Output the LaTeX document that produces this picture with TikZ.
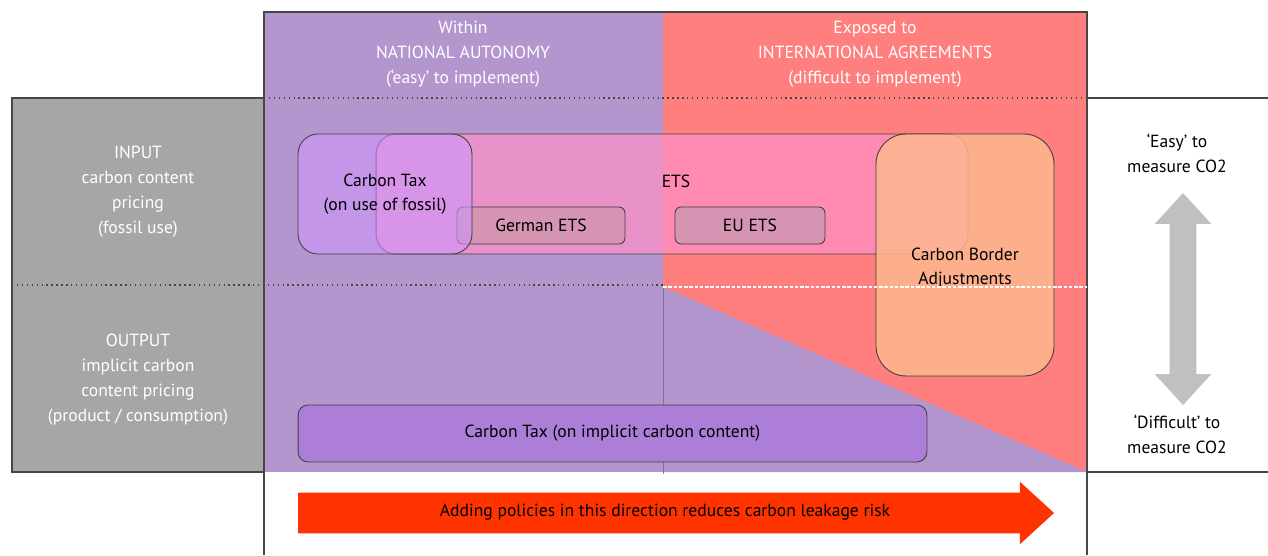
\documentclass[tikz,border=0pt]{standalone}
\usepackage{fontspec}
\setmainfont{PT Sans}
\usepackage{tikz}
\usetikzlibrary{shapes.arrows}
\usetikzlibrary{positioning}
\definecolor{autonomy}{RGB}{180,150,206}
\definecolor{agreement}{RGB}{255,127,127}
\definecolor{panelgrey}{RGB}{166,166,166}
\definecolor{framegrey}{RGB}{70,70,70}
\definecolor{taxpurple}{RGB}{205,150,254}
\definecolor{etspink}{RGB}{255,145,200}
\definecolor{subets}{RGB}{212,148,178}
\definecolor{cbapeach}{RGB}{253,183,142}
\definecolor{implicittax}{RGB}{172,124,218}
\definecolor{leakred}{RGB}{255,51,0}
\definecolor{measuregrey}{RGB}{192,192,192}
\tikzset{policy/.style={draw=black!75,line width=0.5pt,rounded corners=0.4cm,font=\fontsize{10}{14}\selectfont,align=center,inner sep=0pt,text opacity=1}}
\tikzset{headtxt/.style={text=white,font=\fontsize{10}{14.2}\selectfont,align=center}}
\tikzset{sidetxt/.style={text=white,font=\fontsize{10}{14.2}\selectfont,align=center}}
\tikzset{measuretxt/.style={text=black,font=\fontsize{10}{14.2}\selectfont,align=center}}
\tikzset{frame/.style={draw=framegrey,line width=1pt}}

\begin{document}
\begin{tikzpicture}[x=0.02cm,y=-0.02cm]
\useasboundingbox (0,0) rectangle (1268,555);
% coloured fields
\fill[autonomy] (264,12) rectangle (663,472);
\fill[agreement] (663,12) rectangle (1087,472);
\fill[autonomy] (663,287) -- (1087,472) -- (663,472) -- cycle;
\draw[autonomy!75!black,line width=0.4pt] (663,287) -- (663,474);
\fill[panelgrey] (12,98) rectangle (264,472);

% frames
\draw[frame] (264,555) -- (264,12) -- (1087,12) -- (1087,555);
\draw[frame] (264,98) -- (12,98) -- (12,472) -- (264,472);
\draw[frame] (1087,98) -- (1268,98);
\draw[frame] (1087,472) -- (1268,472);

% policies
\node[policy,fill=etspink,fill opacity=0.7,minimum width=11.84cm,minimum height=2.4cm] (ets) at (672,194) {};
\node[font=\fontsize{10}{14}\selectfont] (etslabel) at (676,181) {ETS};
\node[policy,fill=subets,rounded corners=0.12cm,minimum width=3.36cm,minimum height=0.74cm] (germanets) at (541,225.5) {German ETS};
\node[policy,fill=subets,rounded corners=0.12cm,minimum width=3cm,minimum height=0.74cm] (euets) at (750,225.5) {EU ETS};
\node[policy,fill=taxpurple,fill opacity=0.6,minimum width=3.48cm,minimum height=2.4cm] (fossiltax) at (385,194) {Carbon Tax\\(on use of fossil)};
\node[policy,fill=cbapeach,fill opacity=0.85,rounded corners=0.6cm,minimum width=3.56cm,minimum height=4.84cm] (cba) at (965,255) {};
\node[font=\fontsize{10}{14}\selectfont,align=center] (cbalabel) at (965,268) {Carbon Border\\Adjustments};
\node[policy,fill=implicittax,fill opacity=0.9,rounded corners=0.2cm,minimum width=12.58cm,minimum height=1.14cm] (implicit) at (612.5,433.5) {Carbon Tax (on implicit carbon content)};

% separators
\draw[framegrey,dotted,line width=0.8pt] (264,98) -- (1087,98);
\draw[framegrey,dotted,line width=0.8pt] (12,285) -- (663,285);
\draw[white,dash pattern=on 2pt off 1pt,line width=0.8pt] (663,287) -- (1087,287);

% headers
\node[headtxt] (within) at (463,54) {Within\\NATIONAL AUTONOMY\\(‘easy’ to implement)};
\node[headtxt] (exposed) at (875,54) {Exposed to\\INTERNATIONAL AGREEMENTS\\(difficult to implement)};
\node[sidetxt] (input) at (138,192) {INPUT\\carbon content\\pricing\\(fossil use)};
\node[sidetxt] (output) at (138,380) {OUTPUT\\implicit carbon\\content pricing\\(product / consumption)};

% measurability
\node[measuretxt] (easy) at (1177,153) {‘Easy’ to\\measure CO2};
\node[measuretxt] (difficult) at (1177,434) {‘Difficult’ to\\measure CO2};
\node[double arrow,fill=measuregrey,rotate=90,minimum height=4.24cm,inner xsep=0pt,inner ysep=0.26cm,double arrow head extend=0.3cm,double arrow tip angle=85] (scale) at (1183,299) {};

% leakage direction
\node[single arrow,fill=leakred,minimum height=15.12cm,inner xsep=0pt,inner ysep=0.225cm,text height=0.25cm,text depth=0.1cm,single arrow head extend=0.22cm,single arrow tip angle=85,font=\fontsize{10}{14}\selectfont] (leakage) at (665,513) {Adding policies in this direction reduces carbon leakage risk};
\end{tikzpicture}
\end{document}
